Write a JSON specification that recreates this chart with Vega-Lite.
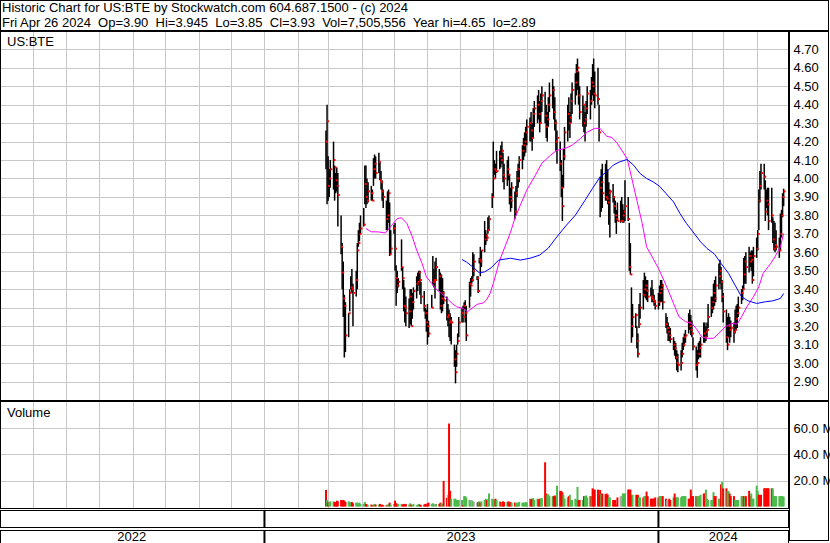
{
"$schema":"https://vega.github.io/schema/vega-lite/v6.json",
"background":"white",
"padding":{"left":0,"top":0,"right":-3,"bottom":0},
"spacing":0,
"datasets":{
"hdr":[{"k":"frame"}],
"yearlabels":[{"year":"2022","mid":"2022-08-31"},{"year":"2023","mid":"2023-07-02"},{"year":"2024","mid":"2024-03-01"}],
"yearstarts":[{"start":"2023-01-01"},{"start":"2024-01-01"}],
"px":[
{"d":"2023-02-27","h":4.26,"l":4.05,"c":4.20,"v":12.8,"t":"down"},
{"d":"2023-02-28","h":4.40,"l":3.86,"c":4.31,"v":5.0,"t":"up"},
{"d":"2023-03-01","h":4.12,"l":3.88,"c":3.96,"v":3.3,"t":"down"},
{"d":"2023-03-02","h":4.05,"l":3.90,"c":4.00,"v":3.0,"t":"up"},
{"d":"2023-03-03","h":4.10,"l":3.95,"c":4.05,"v":4.0,"t":"up"},
{"d":"2023-03-06","h":4.20,"l":3.94,"c":4.10,"v":4.0,"t":"up"},
{"d":"2023-03-07","h":4.07,"l":3.88,"c":4.06,"v":3.5,"t":"down"},
{"d":"2023-03-08","h":4.03,"l":3.92,"c":3.99,"v":3.0,"t":"down"},
{"d":"2023-03-09","h":4.06,"l":3.93,"c":3.96,"v":4.5,"t":"down"},
{"d":"2023-03-10","h":4.03,"l":3.74,"c":3.91,"v":4.0,"t":"down"},
{"d":"2023-03-13","h":3.80,"l":3.59,"c":3.63,"v":5.0,"t":"down"},
{"d":"2023-03-14","h":3.65,"l":3.40,"c":3.49,"v":4.5,"t":"down"},
{"d":"2023-03-15","h":3.55,"l":3.25,"c":3.35,"v":5.0,"t":"down"},
{"d":"2023-03-16","h":3.37,"l":3.03,"c":3.31,"v":4.5,"t":"down"},
{"d":"2023-03-17","h":3.33,"l":3.06,"c":3.15,"v":3.5,"t":"down"},
{"d":"2023-03-20","h":3.27,"l":3.14,"c":3.27,"v":4.0,"t":"up"},
{"d":"2023-03-21","h":3.40,"l":3.28,"c":3.38,"v":3.5,"t":"up"},
{"d":"2023-03-22","h":3.47,"l":3.40,"c":3.41,"v":3.0,"t":"up"},
{"d":"2023-03-23","h":3.51,"l":3.38,"c":3.40,"v":3.5,"t":"down"},
{"d":"2023-03-24","h":3.43,"l":3.20,"c":3.38,"v":2.5,"t":"down"},
{"d":"2023-03-27","h":3.50,"l":3.36,"c":3.45,"v":3.0,"t":"up"},
{"d":"2023-03-28","h":3.65,"l":3.40,"c":3.61,"v":3.0,"t":"up"},
{"d":"2023-03-29","h":3.72,"l":3.63,"c":3.65,"v":2.5,"t":"up"},
{"d":"2023-03-30","h":3.76,"l":3.66,"c":3.70,"v":3.0,"t":"up"},
{"d":"2023-03-31","h":3.80,"l":3.70,"c":3.73,"v":2.0,"t":"up"},
{"d":"2023-04-03","h":3.84,"l":3.74,"c":3.75,"v":2.0,"t":"up"},
{"d":"2023-04-04","h":4.07,"l":3.86,"c":3.97,"v":3.5,"t":"up"},
{"d":"2023-04-05","h":4.07,"l":3.84,"c":3.90,"v":2.0,"t":"down"},
{"d":"2023-04-06","h":4.00,"l":3.86,"c":3.88,"v":1.5,"t":"down"},
{"d":"2023-04-07","h":3.98,"l":3.87,"c":3.93,"v":1.0,"t":"up"},
{"d":"2023-04-10","h":3.96,"l":3.88,"c":3.92,"v":1.5,"t":"down"},
{"d":"2023-04-11","h":3.94,"l":3.88,"c":3.88,"v":1.0,"t":"down"},
{"d":"2023-04-12","h":4.11,"l":3.96,"c":4.05,"v":1.5,"t":"up"},
{"d":"2023-04-13","h":4.13,"l":4.00,"c":4.08,"v":2.0,"t":"up"},
{"d":"2023-04-14","h":4.12,"l":4.00,"c":4.03,"v":1.5,"t":"down"},
{"d":"2023-04-17","h":4.14,"l":4.03,"c":4.09,"v":1.5,"t":"up"},
{"d":"2023-04-18","h":4.09,"l":3.99,"c":3.99,"v":2.0,"t":"down"},
{"d":"2023-04-19","h":4.04,"l":3.94,"c":3.98,"v":1.0,"t":"down"},
{"d":"2023-04-20","h":3.99,"l":3.88,"c":3.93,"v":1.5,"t":"down"},
{"d":"2023-04-21","h":3.94,"l":3.84,"c":3.90,"v":1.0,"t":"down"},
{"d":"2023-04-24","h":3.88,"l":3.72,"c":3.78,"v":1.0,"t":"down"},
{"d":"2023-04-25","h":3.93,"l":3.72,"c":3.80,"v":1.5,"t":"up"},
{"d":"2023-04-26","h":3.94,"l":3.76,"c":3.92,"v":2.0,"t":"up"},
{"d":"2023-04-27","h":3.87,"l":3.58,"c":3.59,"v":3.0,"t":"down"},
{"d":"2023-04-28","h":3.72,"l":3.59,"c":3.62,"v":1.5,"t":"up"},
{"d":"2023-05-01","h":3.75,"l":3.70,"c":3.73,"v":2.0,"t":"up"},
{"d":"2023-05-02","h":3.76,"l":3.50,"c":3.62,"v":4.5,"t":"down"},
{"d":"2023-05-03","h":3.53,"l":3.31,"c":3.46,"v":2.5,"t":"down"},
{"d":"2023-05-04","h":3.50,"l":3.38,"c":3.42,"v":2.0,"t":"down"},
{"d":"2023-05-05","h":3.46,"l":3.41,"c":3.44,"v":2.0,"t":"up"},
{"d":"2023-05-08","h":3.67,"l":3.50,"c":3.52,"v":2.0,"t":"up"},
{"d":"2023-05-09","h":3.52,"l":3.40,"c":3.46,"v":1.5,"t":"down"},
{"d":"2023-05-10","h":3.45,"l":3.28,"c":3.31,"v":2.0,"t":"down"},
{"d":"2023-05-11","h":3.41,"l":3.22,"c":3.30,"v":1.5,"t":"down"},
{"d":"2023-05-12","h":3.36,"l":3.20,"c":3.27,"v":2.0,"t":"down"},
{"d":"2023-05-15","h":3.35,"l":3.19,"c":3.28,"v":1.5,"t":"up"},
{"d":"2023-05-16","h":3.40,"l":3.21,"c":3.36,"v":2.5,"t":"up"},
{"d":"2023-05-17","h":3.40,"l":3.20,"c":3.20,"v":1.5,"t":"down"},
{"d":"2023-05-18","h":3.38,"l":3.24,"c":3.33,"v":1.0,"t":"up"},
{"d":"2023-05-19","h":3.41,"l":3.29,"c":3.39,"v":2.0,"t":"up"},
{"d":"2023-05-22","h":3.47,"l":3.35,"c":3.43,"v":1.0,"t":"up"},
{"d":"2023-05-23","h":3.49,"l":3.39,"c":3.44,"v":1.5,"t":"up"},
{"d":"2023-05-24","h":3.50,"l":3.42,"c":3.49,"v":2.0,"t":"up"},
{"d":"2023-05-25","h":3.50,"l":3.37,"c":3.45,"v":1.5,"t":"down"},
{"d":"2023-05-26","h":3.44,"l":3.32,"c":3.36,"v":1.0,"t":"down"},
{"d":"2023-05-29","h":3.39,"l":3.28,"c":3.31,"v":1.5,"t":"down"},
{"d":"2023-05-30","h":3.30,"l":3.24,"c":3.27,"v":2.0,"t":"down"},
{"d":"2023-05-31","h":3.29,"l":3.17,"c":3.22,"v":1.5,"t":"down"},
{"d":"2023-06-01","h":3.32,"l":3.10,"c":3.20,"v":2.5,"t":"down"},
{"d":"2023-06-02","h":3.23,"l":3.14,"c":3.16,"v":3.0,"t":"down"},
{"d":"2023-06-05","h":3.37,"l":3.30,"c":3.30,"v":2.0,"t":"up"},
{"d":"2023-06-06","h":3.58,"l":3.42,"c":3.44,"v":2.5,"t":"up"},
{"d":"2023-06-07","h":3.51,"l":3.41,"c":3.45,"v":2.0,"t":"up"},
{"d":"2023-06-08","h":3.55,"l":3.35,"c":3.45,"v":1.5,"t":"flat"},
{"d":"2023-06-09","h":3.57,"l":3.45,"c":3.52,"v":2.0,"t":"up"},
{"d":"2023-06-12","h":3.51,"l":3.39,"c":3.47,"v":2.0,"t":"down"},
{"d":"2023-06-13","h":3.49,"l":3.29,"c":3.31,"v":3.0,"t":"down"},
{"d":"2023-06-14","h":3.48,"l":3.27,"c":3.35,"v":2.5,"t":"up"},
{"d":"2023-06-15","h":3.46,"l":3.28,"c":3.38,"v":2.0,"t":"up"},
{"d":"2023-06-16","h":3.39,"l":3.32,"c":3.34,"v":19.7,"t":"down"},
{"d":"2023-06-19","h":3.36,"l":3.23,"c":3.25,"v":6.7,"t":"down"},
{"d":"2023-06-20","h":3.32,"l":3.20,"c":3.26,"v":9.0,"t":"flat"},
{"d":"2023-06-21","h":3.29,"l":3.14,"c":3.22,"v":63.8,"t":"down"},
{"d":"2023-06-22","h":3.27,"l":3.12,"c":3.23,"v":12.0,"t":"down"},
{"d":"2023-06-23","h":3.25,"l":3.10,"c":3.22,"v":6.0,"t":"up"},
{"d":"2023-06-26","h":3.10,"l":2.98,"c":3.02,"v":6.0,"t":"up"},
{"d":"2023-06-27","h":3.07,"l":2.89,"c":2.95,"v":6.0,"t":"up"},
{"d":"2023-06-28","h":3.10,"l":2.98,"c":3.05,"v":5.0,"t":"up"},
{"d":"2023-06-29","h":3.16,"l":3.10,"c":3.12,"v":5.0,"t":"up"},
{"d":"2023-06-30","h":3.25,"l":3.14,"c":3.22,"v":5.0,"t":"up"},
{"d":"2023-07-03","h":3.30,"l":3.22,"c":3.27,"v":5.0,"t":"up"},
{"d":"2023-07-04","h":3.31,"l":3.22,"c":3.25,"v":1.0,"t":"down"},
{"d":"2023-07-05","h":3.33,"l":3.29,"c":3.31,"v":8.0,"t":"up"},
{"d":"2023-07-06","h":3.34,"l":3.22,"c":3.27,"v":8.0,"t":"up"},
{"d":"2023-07-07","h":3.31,"l":3.12,"c":3.15,"v":7.0,"t":"up"},
{"d":"2023-07-10","h":3.44,"l":3.30,"c":3.43,"v":5.0,"t":"up"},
{"d":"2023-07-11","h":3.46,"l":3.36,"c":3.42,"v":4.5,"t":"up"},
{"d":"2023-07-12","h":3.47,"l":3.43,"c":3.45,"v":5.0,"t":"flat"},
{"d":"2023-07-13","h":3.60,"l":3.44,"c":3.50,"v":4.0,"t":"up"},
{"d":"2023-07-14","h":3.59,"l":3.47,"c":3.55,"v":3.5,"t":"flat"},
{"d":"2023-07-17","h":3.47,"l":3.45,"c":3.46,"v":3.0,"t":"flat"},
{"d":"2023-07-18","h":3.47,"l":3.38,"c":3.39,"v":3.5,"t":"down"},
{"d":"2023-07-19","h":3.57,"l":3.54,"c":3.56,"v":4.0,"t":"up"},
{"d":"2023-07-20","h":3.63,"l":3.47,"c":3.55,"v":3.0,"t":"down"},
{"d":"2023-07-21","h":3.61,"l":3.52,"c":3.61,"v":4.0,"t":"up"},
{"d":"2023-07-24","h":3.77,"l":3.60,"c":3.67,"v":5.0,"t":"up"},
{"d":"2023-07-25","h":3.72,"l":3.64,"c":3.69,"v":6.0,"t":"up"},
{"d":"2023-07-26","h":3.70,"l":3.66,"c":3.68,"v":5.0,"t":"down"},
{"d":"2023-07-27","h":3.79,"l":3.70,"c":3.72,"v":5.5,"t":"up"},
{"d":"2023-07-28","h":3.80,"l":3.72,"c":3.78,"v":10.0,"t":"up"},
{"d":"2023-07-31","h":3.92,"l":3.84,"c":3.90,"v":6.0,"t":"up"},
{"d":"2023-08-01","h":4.20,"l":3.90,"c":4.00,"v":5.5,"t":"up"},
{"d":"2023-08-02","h":4.10,"l":4.02,"c":4.05,"v":5.0,"t":"up"},
{"d":"2023-08-03","h":4.08,"l":4.00,"c":4.04,"v":6.0,"t":"down"},
{"d":"2023-08-04","h":4.15,"l":4.03,"c":4.04,"v":5.0,"t":"up"},
{"d":"2023-08-07","h":4.15,"l":4.05,"c":4.12,"v":4.0,"t":"up"},
{"d":"2023-08-08","h":4.18,"l":4.06,"c":4.10,"v":3.5,"t":"down"},
{"d":"2023-08-09","h":4.20,"l":4.08,"c":4.15,"v":3.0,"t":"up"},
{"d":"2023-08-10","h":4.14,"l":3.98,"c":4.02,"v":4.0,"t":"down"},
{"d":"2023-08-11","h":4.08,"l":3.94,"c":4.00,"v":3.5,"t":"down"},
{"d":"2023-08-14","h":4.10,"l":3.96,"c":4.05,"v":3.5,"t":"up"},
{"d":"2023-08-15","h":4.12,"l":3.99,"c":4.02,"v":4.0,"t":"down"},
{"d":"2023-08-16","h":4.02,"l":3.86,"c":3.90,"v":3.0,"t":"down"},
{"d":"2023-08-17","h":3.95,"l":3.82,"c":3.88,"v":3.5,"t":"down"},
{"d":"2023-08-18","h":3.98,"l":3.84,"c":3.95,"v":3.0,"t":"up"},
{"d":"2023-08-21","h":3.93,"l":3.78,"c":3.82,"v":3.0,"t":"down"},
{"d":"2023-08-22","h":3.96,"l":3.80,"c":3.92,"v":3.0,"t":"up"},
{"d":"2023-08-23","h":4.04,"l":3.90,"c":4.00,"v":2.5,"t":"up"},
{"d":"2023-08-24","h":4.08,"l":3.95,"c":4.05,"v":3.0,"t":"up"},
{"d":"2023-08-25","h":4.12,"l":3.98,"c":4.10,"v":3.5,"t":"up"},
{"d":"2023-08-28","h":4.18,"l":4.05,"c":4.15,"v":3.0,"t":"up"},
{"d":"2023-08-29","h":4.22,"l":4.10,"c":4.18,"v":3.0,"t":"up"},
{"d":"2023-08-30","h":4.25,"l":4.12,"c":4.20,"v":2.5,"t":"up"},
{"d":"2023-08-31","h":4.28,"l":4.14,"c":4.25,"v":3.5,"t":"up"},
{"d":"2023-09-01","h":4.32,"l":4.18,"c":4.28,"v":3.0,"t":"up"},
{"d":"2023-09-04","h":4.33,"l":4.20,"c":4.30,"v":6.0,"t":"up"},
{"d":"2023-09-05","h":4.36,"l":4.20,"c":4.26,"v":5.5,"t":"down"},
{"d":"2023-09-06","h":4.30,"l":4.15,"c":4.22,"v":6.0,"t":"down"},
{"d":"2023-09-07","h":4.38,"l":4.22,"c":4.35,"v":6.5,"t":"up"},
{"d":"2023-09-08","h":4.42,"l":4.28,"c":4.38,"v":5.0,"t":"up"},
{"d":"2023-09-11","h":4.45,"l":4.30,"c":4.40,"v":6.0,"t":"up"},
{"d":"2023-09-12","h":4.48,"l":4.32,"c":4.35,"v":5.5,"t":"down"},
{"d":"2023-09-13","h":4.42,"l":4.25,"c":4.30,"v":6.0,"t":"down"},
{"d":"2023-09-14","h":4.46,"l":4.30,"c":4.42,"v":6.0,"t":"up"},
{"d":"2023-09-15","h":4.50,"l":4.36,"c":4.45,"v":6.5,"t":"up"},
{"d":"2023-09-18","h":4.47,"l":4.30,"c":4.34,"v":34.0,"t":"down"},
{"d":"2023-09-19","h":4.40,"l":4.22,"c":4.28,"v":10.0,"t":"down"},
{"d":"2023-09-20","h":4.36,"l":4.20,"c":4.32,"v":9.0,"t":"up"},
{"d":"2023-09-21","h":4.44,"l":4.28,"c":4.40,"v":9.5,"t":"up"},
{"d":"2023-09-22","h":4.52,"l":4.36,"c":4.45,"v":8.0,"t":"up"},
{"d":"2023-09-25","h":4.54,"l":4.38,"c":4.48,"v":8.0,"t":"up"},
{"d":"2023-09-26","h":4.50,"l":4.32,"c":4.36,"v":8.0,"t":"down"},
{"d":"2023-09-27","h":4.44,"l":4.26,"c":4.30,"v":8.5,"t":"down"},
{"d":"2023-09-28","h":4.32,"l":4.15,"c":4.20,"v":7.5,"t":"down"},
{"d":"2023-09-29","h":4.26,"l":4.08,"c":4.22,"v":16.0,"t":"up"},
{"d":"2023-10-02","h":4.20,"l":4.04,"c":4.08,"v":12.0,"t":"down"},
{"d":"2023-10-03","h":4.10,"l":3.90,"c":3.95,"v":12.0,"t":"down"},
{"d":"2023-10-04","h":4.02,"l":3.77,"c":3.85,"v":11.0,"t":"down"},
{"d":"2023-10-05","h":4.16,"l":3.95,"c":4.12,"v":9.0,"t":"up"},
{"d":"2023-10-06","h":4.28,"l":4.10,"c":4.25,"v":6.0,"t":"up"},
{"d":"2023-10-09","h":4.40,"l":4.20,"c":4.35,"v":7.0,"t":"up"},
{"d":"2023-10-10","h":4.44,"l":4.26,"c":4.30,"v":8.0,"t":"down"},
{"d":"2023-10-11","h":4.36,"l":4.22,"c":4.33,"v":9.0,"t":"up"},
{"d":"2023-10-12","h":4.46,"l":4.30,"c":4.42,"v":5.0,"t":"up"},
{"d":"2023-10-13","h":4.52,"l":4.35,"c":4.48,"v":5.0,"t":"up"},
{"d":"2023-10-16","h":4.57,"l":4.40,"c":4.52,"v":6.0,"t":"up"},
{"d":"2023-10-17","h":4.62,"l":4.45,"c":4.58,"v":5.0,"t":"up"},
{"d":"2023-10-18","h":4.65,"l":4.48,"c":4.60,"v":15.0,"t":"up"},
{"d":"2023-10-19","h":4.58,"l":4.40,"c":4.45,"v":5.0,"t":"down"},
{"d":"2023-10-20","h":4.50,"l":4.32,"c":4.36,"v":5.0,"t":"down"},
{"d":"2023-10-23","h":4.45,"l":4.28,"c":4.40,"v":5.0,"t":"up"},
{"d":"2023-10-24","h":4.40,"l":4.25,"c":4.30,"v":8.0,"t":"down"},
{"d":"2023-10-25","h":4.36,"l":4.20,"c":4.32,"v":8.0,"t":"up"},
{"d":"2023-10-26","h":4.42,"l":4.28,"c":4.38,"v":8.5,"t":"up"},
{"d":"2023-10-27","h":4.50,"l":4.35,"c":4.46,"v":7.0,"t":"up"},
{"d":"2023-10-30","h":4.48,"l":4.32,"c":4.42,"v":8.0,"t":"down"},
{"d":"2023-10-31","h":4.55,"l":4.40,"c":4.52,"v":8.0,"t":"up"},
{"d":"2023-11-01","h":4.62,"l":4.45,"c":4.50,"v":14.0,"t":"down"},
{"d":"2023-11-02","h":4.65,"l":4.42,"c":4.46,"v":13.0,"t":"down"},
{"d":"2023-11-03","h":4.58,"l":4.38,"c":4.45,"v":13.0,"t":"down"},
{"d":"2023-11-06","h":4.60,"l":4.40,"c":4.43,"v":13.0,"t":"down"},
{"d":"2023-11-07","h":4.40,"l":4.20,"c":4.25,"v":9.0,"t":"down"},
{"d":"2023-11-08","h":4.01,"l":3.79,"c":3.95,"v":12.7,"t":"down"},
{"d":"2023-11-09","h":4.05,"l":3.82,"c":3.98,"v":9.5,"t":"up"},
{"d":"2023-11-10","h":4.08,"l":3.84,"c":3.92,"v":10.0,"t":"down"},
{"d":"2023-11-13","h":4.08,"l":3.88,"c":3.90,"v":9.5,"t":"down"},
{"d":"2023-11-14","h":4.10,"l":3.88,"c":3.89,"v":10.0,"t":"down"},
{"d":"2023-11-15","h":4.05,"l":3.86,"c":3.87,"v":9.0,"t":"down"},
{"d":"2023-11-16","h":3.98,"l":3.75,"c":3.92,"v":7.0,"t":"up"},
{"d":"2023-11-17","h":3.94,"l":3.68,"c":3.93,"v":7.0,"t":"up"},
{"d":"2023-11-20","h":3.97,"l":3.87,"c":3.90,"v":5.0,"t":"down"},
{"d":"2023-11-21","h":3.90,"l":3.81,"c":3.85,"v":5.0,"t":"down"},
{"d":"2023-11-22","h":3.88,"l":3.76,"c":3.80,"v":5.0,"t":"down"},
{"d":"2023-11-23","h":3.83,"l":3.70,"c":3.78,"v":1.5,"t":"down"},
{"d":"2023-11-24","h":3.87,"l":3.77,"c":3.77,"v":7.0,"t":"down"},
{"d":"2023-11-27","h":3.88,"l":3.76,"c":3.77,"v":8.0,"t":"flat"},
{"d":"2023-11-28","h":3.90,"l":3.77,"c":3.77,"v":8.0,"t":"flat"},
{"d":"2023-11-29","h":3.86,"l":3.76,"c":3.80,"v":10.0,"t":"up"},
{"d":"2023-11-30","h":3.83,"l":3.76,"c":3.82,"v":10.0,"t":"up"},
{"d":"2023-12-01","h":3.99,"l":3.77,"c":3.85,"v":10.0,"t":"up"},
{"d":"2023-12-04","h":3.90,"l":3.77,"c":3.78,"v":13.0,"t":"down"},
{"d":"2023-12-05","h":3.76,"l":3.50,"c":3.52,"v":13.0,"t":"down"},
{"d":"2023-12-06","h":3.65,"l":3.48,"c":3.48,"v":13.0,"t":"down"},
{"d":"2023-12-07","h":3.41,"l":3.11,"c":3.20,"v":9.0,"t":"down"},
{"d":"2023-12-08","h":3.32,"l":3.14,"c":3.25,"v":9.0,"t":"up"},
{"d":"2023-12-11","h":3.27,"l":3.19,"c":3.26,"v":9.0,"t":"up"},
{"d":"2023-12-12","h":3.20,"l":3.08,"c":3.12,"v":9.0,"t":"down"},
{"d":"2023-12-13","h":3.16,"l":3.03,"c":3.05,"v":9.0,"t":"down"},
{"d":"2023-12-14","h":3.32,"l":3.19,"c":3.21,"v":7.0,"t":"up"},
{"d":"2023-12-15","h":3.38,"l":3.24,"c":3.30,"v":7.0,"t":"up"},
{"d":"2023-12-18","h":3.45,"l":3.29,"c":3.37,"v":7.0,"t":"down"},
{"d":"2023-12-19","h":3.49,"l":3.36,"c":3.40,"v":8.0,"t":"up"},
{"d":"2023-12-20","h":3.47,"l":3.35,"c":3.42,"v":8.0,"t":"up"},
{"d":"2023-12-21","h":3.45,"l":3.34,"c":3.39,"v":11.5,"t":"down"},
{"d":"2023-12-22","h":3.45,"l":3.33,"c":3.36,"v":8.0,"t":"down"},
{"d":"2023-12-25","h":3.41,"l":3.36,"c":3.36,"v":6.0,"t":"down"},
{"d":"2023-12-26","h":3.45,"l":3.33,"c":3.35,"v":6.0,"t":"down"},
{"d":"2023-12-27","h":3.40,"l":3.33,"c":3.34,"v":6.0,"t":"down"},
{"d":"2023-12-28","h":3.37,"l":3.31,"c":3.33,"v":6.0,"t":"down"},
{"d":"2023-12-29","h":3.34,"l":3.29,"c":3.31,"v":7.0,"t":"down"},
{"d":"2024-01-01","h":3.38,"l":3.29,"c":3.33,"v":7.0,"t":"down"},
{"d":"2024-01-02","h":3.42,"l":3.31,"c":3.38,"v":8.0,"t":"up"},
{"d":"2024-01-03","h":3.45,"l":3.33,"c":3.40,"v":8.0,"t":"up"},
{"d":"2024-01-04","h":3.45,"l":3.33,"c":3.42,"v":8.0,"t":"up"},
{"d":"2024-01-05","h":3.43,"l":3.29,"c":3.33,"v":8.0,"t":"down"},
{"d":"2024-01-08","h":3.27,"l":3.19,"c":3.21,"v":6.0,"t":"down"},
{"d":"2024-01-09","h":3.25,"l":3.16,"c":3.19,"v":5.0,"t":"flat"},
{"d":"2024-01-10","h":3.22,"l":3.12,"c":3.17,"v":5.0,"t":"flat"},
{"d":"2024-01-11","h":3.20,"l":3.12,"c":3.15,"v":6.0,"t":"down"},
{"d":"2024-01-12","h":3.19,"l":3.11,"c":3.13,"v":5.0,"t":"down"},
{"d":"2024-01-15","h":3.14,"l":3.07,"c":3.10,"v":7.0,"t":"up"},
{"d":"2024-01-16","h":3.12,"l":3.04,"c":3.08,"v":10.0,"t":"down"},
{"d":"2024-01-17","h":3.11,"l":3.02,"c":3.03,"v":7.0,"t":"down"},
{"d":"2024-01-18","h":3.07,"l":2.96,"c":3.00,"v":7.0,"t":"up"},
{"d":"2024-01-19","h":3.05,"l":2.95,"c":2.99,"v":7.0,"t":"up"},
{"d":"2024-01-22","h":3.07,"l":2.96,"c":3.00,"v":7.0,"t":"up"},
{"d":"2024-01-23","h":3.11,"l":3.03,"c":3.05,"v":8.0,"t":"up"},
{"d":"2024-01-24","h":3.14,"l":3.07,"c":3.10,"v":8.0,"t":"up"},
{"d":"2024-01-25","h":3.16,"l":3.09,"c":3.14,"v":8.0,"t":"up"},
{"d":"2024-01-26","h":3.18,"l":3.11,"c":3.15,"v":8.0,"t":"up"},
{"d":"2024-01-29","h":3.27,"l":3.16,"c":3.22,"v":6.0,"t":"down"},
{"d":"2024-01-30","h":3.29,"l":3.18,"c":3.20,"v":6.0,"t":"down"},
{"d":"2024-01-31","h":3.26,"l":3.15,"c":3.18,"v":13.0,"t":"down"},
{"d":"2024-02-01","h":3.23,"l":3.14,"c":3.16,"v":8.0,"t":"down"},
{"d":"2024-02-02","h":3.14,"l":3.07,"c":3.09,"v":8.0,"t":"down"},
{"d":"2024-02-05","h":3.09,"l":2.96,"c":2.99,"v":8.0,"t":"down"},
{"d":"2024-02-06","h":3.07,"l":2.92,"c":3.00,"v":8.0,"t":"up"},
{"d":"2024-02-07","h":3.11,"l":3.02,"c":3.05,"v":8.0,"t":"up"},
{"d":"2024-02-08","h":3.12,"l":3.03,"c":3.08,"v":8.0,"t":"up"},
{"d":"2024-02-09","h":3.14,"l":3.03,"c":3.10,"v":9.0,"t":"up"},
{"d":"2024-02-12","h":3.22,"l":3.11,"c":3.16,"v":10.0,"t":"down"},
{"d":"2024-02-13","h":3.22,"l":3.11,"c":3.14,"v":10.0,"t":"down"},
{"d":"2024-02-14","h":3.20,"l":3.12,"c":3.17,"v":13.0,"t":"up"},
{"d":"2024-02-15","h":3.22,"l":3.14,"c":3.18,"v":6.0,"t":"up"},
{"d":"2024-02-16","h":3.32,"l":3.19,"c":3.25,"v":5.0,"t":"up"},
{"d":"2024-02-19","h":3.36,"l":3.25,"c":3.30,"v":5.0,"t":"up"},
{"d":"2024-02-20","h":3.36,"l":3.27,"c":3.33,"v":5.0,"t":"up"},
{"d":"2024-02-21","h":3.43,"l":3.29,"c":3.38,"v":11.0,"t":"up"},
{"d":"2024-02-22","h":3.45,"l":3.31,"c":3.35,"v":8.0,"t":"down"},
{"d":"2024-02-23","h":3.47,"l":3.33,"c":3.42,"v":8.0,"t":"down"},
{"d":"2024-02-26","h":3.54,"l":3.40,"c":3.47,"v":6.0,"t":"up"},
{"d":"2024-02-27","h":3.56,"l":3.43,"c":3.50,"v":6.0,"t":"up"},
{"d":"2024-02-28","h":3.52,"l":3.40,"c":3.44,"v":17.0,"t":"down"},
{"d":"2024-02-29","h":3.45,"l":3.33,"c":3.36,"v":19.0,"t":"up"},
{"d":"2024-03-01","h":3.38,"l":3.22,"c":3.28,"v":14.0,"t":"down"},
{"d":"2024-03-04","h":3.29,"l":3.11,"c":3.14,"v":14.0,"t":"down"},
{"d":"2024-03-05","h":3.25,"l":3.07,"c":3.10,"v":12.0,"t":"up"},
{"d":"2024-03-06","h":3.27,"l":3.14,"c":3.20,"v":12.0,"t":"up"},
{"d":"2024-03-07","h":3.25,"l":3.11,"c":3.18,"v":10.0,"t":"down"},
{"d":"2024-03-08","h":3.23,"l":3.14,"c":3.19,"v":8.0,"t":"down"},
{"d":"2024-03-11","h":3.22,"l":3.11,"c":3.17,"v":8.0,"t":"down"},
{"d":"2024-03-12","h":3.29,"l":3.16,"c":3.18,"v":5.0,"t":"up"},
{"d":"2024-03-13","h":3.31,"l":3.18,"c":3.24,"v":5.0,"t":"up"},
{"d":"2024-03-14","h":3.32,"l":3.19,"c":3.27,"v":5.0,"t":"up"},
{"d":"2024-03-15","h":3.36,"l":3.25,"c":3.30,"v":5.0,"t":"up"},
{"d":"2024-03-18","h":3.40,"l":3.32,"c":3.38,"v":8.0,"t":"up"},
{"d":"2024-03-19","h":3.42,"l":3.34,"c":3.40,"v":8.0,"t":"up"},
{"d":"2024-03-20","h":3.57,"l":3.40,"c":3.48,"v":8.0,"t":"down"},
{"d":"2024-03-21","h":3.58,"l":3.43,"c":3.55,"v":7.0,"t":"up"},
{"d":"2024-03-22","h":3.60,"l":3.43,"c":3.52,"v":8.0,"t":"down"},
{"d":"2024-03-25","h":3.63,"l":3.49,"c":3.58,"v":12.0,"t":"down"},
{"d":"2024-03-26","h":3.60,"l":3.52,"c":3.55,"v":8.0,"t":"down"},
{"d":"2024-03-27","h":3.61,"l":3.50,"c":3.56,"v":10.0,"t":"up"},
{"d":"2024-03-28","h":3.61,"l":3.43,"c":3.45,"v":6.0,"t":"up"},
{"d":"2024-03-29","h":3.63,"l":3.47,"c":3.58,"v":6.0,"t":"up"},
{"d":"2024-04-01","h":3.68,"l":3.57,"c":3.62,"v":16.0,"t":"up"},
{"d":"2024-04-02","h":3.72,"l":3.61,"c":3.70,"v":12.0,"t":"up"},
{"d":"2024-04-03","h":3.94,"l":3.72,"c":3.88,"v":9.0,"t":"down"},
{"d":"2024-04-04","h":4.04,"l":3.87,"c":3.96,"v":9.0,"t":"down"},
{"d":"2024-04-05","h":4.08,"l":3.94,"c":4.03,"v":9.0,"t":"down"},
{"d":"2024-04-08","h":4.08,"l":3.94,"c":4.01,"v":14.0,"t":"down"},
{"d":"2024-04-09","h":3.99,"l":3.77,"c":3.82,"v":14.0,"t":"down"},
{"d":"2024-04-10","h":3.94,"l":3.84,"c":3.88,"v":14.0,"t":"down"},
{"d":"2024-04-11","h":3.95,"l":3.80,"c":3.86,"v":14.0,"t":"down"},
{"d":"2024-04-12","h":3.95,"l":3.72,"c":3.77,"v":14.0,"t":"down"},
{"d":"2024-04-15","h":3.95,"l":3.76,"c":3.80,"v":14.0,"t":"down"},
{"d":"2024-04-16","h":3.79,"l":3.65,"c":3.67,"v":14.0,"t":"up"},
{"d":"2024-04-17","h":3.77,"l":3.61,"c":3.62,"v":8.0,"t":"up"},
{"d":"2024-04-18","h":3.76,"l":3.60,"c":3.64,"v":8.0,"t":"up"},
{"d":"2024-04-19","h":3.72,"l":3.61,"c":3.63,"v":8.0,"t":"up"},
{"d":"2024-04-22","h":3.68,"l":3.57,"c":3.61,"v":8.0,"t":"up"},
{"d":"2024-04-23","h":3.81,"l":3.61,"c":3.70,"v":8.0,"t":"up"},
{"d":"2024-04-24","h":3.83,"l":3.68,"c":3.80,"v":8.0,"t":"up"},
{"d":"2024-04-25","h":3.92,"l":3.79,"c":3.90,"v":8.0,"t":"up"},
{"d":"2024-04-26","h":3.945,"l":3.85,"c":3.93,"v":7.5,"t":"up"}
],
"ma1":[
{"d":"2023-04-05","m":3.729},{"d":"2023-04-10","m":3.711},{"d":"2023-04-16","m":3.711},{"d":"2023-04-23","m":3.705},{"d":"2023-04-29","m":3.747},{"d":"2023-05-04","m":3.783},{"d":"2023-05-08","m":3.787},{"d":"2023-05-13","m":3.756},{"d":"2023-05-18","m":3.684},{"d":"2023-05-22","m":3.612},{"d":"2023-05-27","m":3.540},{"d":"2023-05-31","m":3.467},{"d":"2023-06-05","m":3.431},{"d":"2023-06-10","m":3.395},{"d":"2023-06-14","m":3.377},{"d":"2023-06-19","m":3.350},{"d":"2023-06-24","m":3.323},{"d":"2023-06-28","m":3.305},{"d":"2023-07-04","m":3.296},{"d":"2023-07-08","m":3.278},{"d":"2023-07-12","m":3.296},{"d":"2023-07-17","m":3.318},{"d":"2023-07-23","m":3.326},{"d":"2023-07-26","m":3.345},{"d":"2023-07-29","m":3.377},{"d":"2023-08-01","m":3.431},{"d":"2023-08-04","m":3.494},{"d":"2023-08-07","m":3.558},{"d":"2023-08-12","m":3.633},{"d":"2023-08-17","m":3.709},{"d":"2023-08-21","m":3.785},{"d":"2023-08-26","m":3.855},{"d":"2023-09-01","m":3.937},{"d":"2023-09-09","m":4.018},{"d":"2023-09-15","m":4.083},{"d":"2023-09-23","m":4.126},{"d":"2023-09-29","m":4.153},{"d":"2023-10-07","m":4.164},{"d":"2023-10-13","m":4.180},{"d":"2023-10-21","m":4.218},{"d":"2023-10-27","m":4.251},{"d":"2023-11-03","m":4.272},{"d":"2023-11-08","m":4.271},{"d":"2023-11-14","m":4.229},{"d":"2023-11-19","m":4.222},{"d":"2023-11-24","m":4.189},{"d":"2023-11-28","m":4.153},{"d":"2023-12-03","m":4.108},{"d":"2023-12-07","m":4.009},{"d":"2023-12-12","m":3.882},{"d":"2023-12-17","m":3.756},{"d":"2023-12-21","m":3.630},{"d":"2023-12-27","m":3.567},{"d":"2024-01-01","m":3.513},{"d":"2024-01-06","m":3.449},{"d":"2024-01-10","m":3.395},{"d":"2024-01-15","m":3.323},{"d":"2024-01-20","m":3.251},{"d":"2024-01-26","m":3.224},{"d":"2024-02-01","m":3.215},{"d":"2024-02-06","m":3.179},{"d":"2024-02-10","m":3.142},{"d":"2024-02-15","m":3.134},{"d":"2024-02-21","m":3.134},{"d":"2024-02-26","m":3.161},{"d":"2024-03-03","m":3.197},{"d":"2024-03-09","m":3.215},{"d":"2024-03-14","m":3.211},{"d":"2024-03-18","m":3.251},{"d":"2024-03-23","m":3.305},{"d":"2024-03-29","m":3.359},{"d":"2024-04-03","m":3.413},{"d":"2024-04-07","m":3.486},{"d":"2024-04-14","m":3.540},{"d":"2024-04-18","m":3.576},{"d":"2024-04-23","m":3.630},{"d":"2024-04-26","m":3.702}
],
"ma2":[
{"d":"2023-07-03","m":3.561},{"d":"2023-07-07","m":3.548},{"d":"2023-07-13","m":3.521},{"d":"2023-07-19","m":3.489},{"d":"2023-07-24","m":3.494},{"d":"2023-07-30","m":3.516},{"d":"2023-08-06","m":3.558},{"d":"2023-08-17","m":3.568},{"d":"2023-08-26","m":3.558},{"d":"2023-09-04","m":3.568},{"d":"2023-09-13","m":3.585},{"d":"2023-09-21","m":3.623},{"d":"2023-09-28","m":3.677},{"d":"2023-10-07","m":3.742},{"d":"2023-10-16","m":3.801},{"d":"2023-10-25","m":3.882},{"d":"2023-11-01","m":3.947},{"d":"2023-11-08","m":4.009},{"d":"2023-11-14","m":4.036},{"d":"2023-11-20","m":4.072},{"d":"2023-11-26","m":4.090},{"d":"2023-12-03","m":4.103},{"d":"2023-12-09","m":4.072},{"d":"2023-12-15","m":4.027},{"d":"2023-12-21","m":4.000},{"d":"2023-12-27","m":3.982},{"d":"2024-01-02","m":3.958},{"d":"2024-01-08","m":3.919},{"d":"2024-01-15","m":3.873},{"d":"2024-01-21","m":3.810},{"d":"2024-01-27","m":3.756},{"d":"2024-02-02","m":3.711},{"d":"2024-02-09","m":3.657},{"d":"2024-02-15","m":3.621},{"d":"2024-02-22","m":3.590},{"d":"2024-02-28","m":3.540},{"d":"2024-03-06","m":3.486},{"d":"2024-03-12","m":3.422},{"d":"2024-03-18","m":3.359},{"d":"2024-03-24","m":3.337},{"d":"2024-04-01","m":3.323},{"d":"2024-04-09","m":3.332},{"d":"2024-04-16","m":3.337},{"d":"2024-04-23","m":3.350},{"d":"2024-04-26","m":3.377}
]
},
"vconcat":[
{"width":829,"height":31,
 "title":{"text":"Historic Chart for US:BTE by Stockwatch.com 604.687.1500 - (c) 2024","subtitle":"Fri Apr 26 2024\u00a0 Op=3.90\u00a0 Hi=3.945\u00a0 Lo=3.85\u00a0 Cl=3.93\u00a0 Vol=7,505,556\u00a0 Year hi=4.65\u00a0 lo=2.89","offset":-29.5,"dx":2,"subtitlePadding":2},
 "data":{"name":"hdr"},"mark":{"type":"rect","fill":"#ffffff","stroke":"#000000","strokeWidth":2,"clip":true}},
{"hconcat":[
 {"vconcat":[
  {"width":789,"height":370,
   "title":{"text":"US:BTE","offset":-17.5,"dx":7},
   "layer":[
    {"data":{"name":"px"},"mark":{"type":"rule","color":"#000000","strokeWidth":1.5},
     "encoding":{
      "x":{"field":"d","type":"temporal","title":null,"scale":{"type":"utc","domain":[{"year":2022,"month":5,"date":1,"utc":true},{"year":2024,"month":4,"date":30,"hours":23,"utc":true}],"padding":0,"nice":false},"axis":{"tickCount":{"interval":"month","step":1}}},
      "y":{"field":"l","type":"quantitative","title":null,"scale":{"domain":[2.7944,4.7992],"zero":false,"nice":false,"padding":0},"axis":{"values":[2.9,3,3.1,3.2,3.3,3.4,3.5,3.6,3.7,3.8,3.9,4,4.1,4.2,4.3,4.4,4.5,4.6,4.7]}},
      "y2":{"field":"h"}}},
    {"data":{"name":"px"},"mark":{"type":"square","color":"#ff0000","size":4,"opacity":1,"xOffset":1},
     "encoding":{
      "x":{"field":"d","type":"temporal","title":null,"scale":{"type":"utc","domain":[{"year":2022,"month":5,"date":1,"utc":true},{"year":2024,"month":4,"date":30,"hours":23,"utc":true}],"padding":0,"nice":false},"axis":{"tickCount":{"interval":"month","step":1}}},
      "y":{"field":"c","type":"quantitative","title":null,"scale":{"domain":[2.7944,4.7992],"zero":false,"nice":false,"padding":0},"axis":{"values":[2.9,3,3.1,3.2,3.3,3.4,3.5,3.6,3.7,3.8,3.9,4,4.1,4.2,4.3,4.4,4.5,4.6,4.7]}}}},
    {"data":{"name":"ma1"},"mark":{"type":"line","color":"#ff00ff","strokeWidth":1},
     "encoding":{
      "x":{"field":"d","type":"temporal","title":null,"scale":{"type":"utc","domain":[{"year":2022,"month":5,"date":1,"utc":true},{"year":2024,"month":4,"date":30,"hours":23,"utc":true}],"padding":0,"nice":false},"axis":{"tickCount":{"interval":"month","step":1}}},
      "y":{"field":"m","type":"quantitative","title":null,"scale":{"domain":[2.7944,4.7992],"zero":false,"nice":false,"padding":0},"axis":{"values":[2.9,3,3.1,3.2,3.3,3.4,3.5,3.6,3.7,3.8,3.9,4,4.1,4.2,4.3,4.4,4.5,4.6,4.7]}}}},
    {"data":{"name":"ma2"},"mark":{"type":"line","color":"#0000ff","strokeWidth":1},
     "encoding":{
      "x":{"field":"d","type":"temporal","title":null,"scale":{"type":"utc","domain":[{"year":2022,"month":5,"date":1,"utc":true},{"year":2024,"month":4,"date":30,"hours":23,"utc":true}],"padding":0,"nice":false},"axis":{"tickCount":{"interval":"month","step":1}}},
      "y":{"field":"m","type":"quantitative","title":null,"scale":{"domain":[2.7944,4.7992],"zero":false,"nice":false,"padding":0},"axis":{"values":[2.9,3,3.1,3.2,3.3,3.4,3.5,3.6,3.7,3.8,3.9,4,4.1,4.2,4.3,4.4,4.5,4.6,4.7]}}}},
    {"data":{"name":"hdr"},"mark":{"type":"rect","fill":"transparent","stroke":"#000000","strokeWidth":2,"clip":true}}
   ]},
  {"width":789,"height":108,
   "title":{"text":"Volume","offset":-19,"dx":7},
   "layer":[
    {"data":{"name":"px"},"mark":{"type":"bar","width":2},
     "encoding":{
      "x":{"field":"d","type":"temporal","title":null,"scale":{"type":"utc","domain":[{"year":2022,"month":5,"date":1,"utc":true},{"year":2024,"month":4,"date":30,"hours":23,"utc":true}],"padding":0,"nice":false},"axis":{"tickCount":{"interval":"month","step":1}}},
      "y":{"field":"v","type":"quantitative","title":null,"scale":{"domain":[-1.92,81.15],"zero":false,"nice":false,"padding":0},"axis":{"values":[20,40,60]}},
      "color":{"field":"t","type":"nominal","scale":{"domain":["up","down","flat"],"range":["#4cbb4c","#ff0000","#a9a9a9"]},"legend":null}}},
    {"data":{"name":"hdr"},"mark":{"type":"rect","fill":"transparent","stroke":"#000000","strokeWidth":2,"clip":true}}
   ]},
  {"width":789,"height":18,
   "layer":[
    {"data":{"name":"yearstarts"},"mark":{"type":"rule","color":"#000000","strokeWidth":2},
     "encoding":{"x":{"field":"start","type":"temporal","title":null,"scale":{"type":"utc","domain":[{"year":2022,"month":5,"date":1,"utc":true},{"year":2024,"month":4,"date":30,"hours":23,"utc":true}],"padding":0,"nice":false},"axis":null}}},
    {"data":{"name":"hdr"},"mark":{"type":"rect","fill":"transparent","stroke":"#000000","strokeWidth":2,"clip":true}}
   ]},
  {"width":789,"height":14,
   "layer":[
    {"data":{"name":"yearstarts"},"mark":{"type":"rule","color":"#000000","strokeWidth":2},
     "encoding":{"x":{"field":"start","type":"temporal","title":null,"scale":{"type":"utc","domain":[{"year":2022,"month":5,"date":1,"utc":true},{"year":2024,"month":4,"date":30,"hours":23,"utc":true}],"padding":0,"nice":false},"axis":null}}},
    {"data":{"name":"yearlabels"},"mark":{"type":"text","fontSize":13,"baseline":"middle","color":"#000000","font":"Liberation Sans"},
     "encoding":{"x":{"field":"mid","type":"temporal","title":null,"scale":{"type":"utc","domain":[{"year":2022,"month":5,"date":1,"utc":true},{"year":2024,"month":4,"date":30,"hours":23,"utc":true}],"padding":0,"nice":false},"axis":null},
      "text":{"field":"year","type":"nominal"}}},
    {"data":{"name":"hdr"},"mark":{"type":"rect","fill":"transparent","stroke":"#000000","strokeWidth":2,"clip":true}}
   ]}
 ],"spacing":0},
 {"vconcat":[
  {"width":40,"height":370,
   "layer":[
    {"data":{"name":"px"},"mark":{"type":"point","opacity":0},
     "encoding":{"y":{"field":"c","type":"quantitative","title":null,"scale":{"domain":[2.7944,4.7992],"zero":false,"nice":false,"padding":0},
      "axis":{"orient":"left","grid":false,"labels":true,"labelAlign":"left","labelPadding":-4,"labelBaseline":"middle","labelOverlap":false,"format":".2f","values":[2.9,3,3.1,3.2,3.3,3.4,3.5,3.6,3.7,3.8,3.9,4,4.1,4.2,4.3,4.4,4.5,4.6,4.7]}}}},
    {"data":{"name":"hdr"},"mark":{"type":"rect","fill":"transparent","stroke":"#000000","strokeWidth":2,"clip":true}}
   ]},
  {"width":40,"height":140,
   "layer":[
    {"data":{"name":"px"},"mark":{"type":"point","opacity":0},
     "encoding":{"y":{"field":"v","type":"quantitative","title":null,"scale":{"domain":[-26.54,81.15],"zero":false,"nice":false,"padding":0},
      "axis":{"orient":"left","grid":false,"labels":true,"labelAlign":"left","labelPadding":-4,"labelBaseline":"middle","labelOverlap":false,"values":[20,40,60],"labelExpr":"format(datum.value,'.1f') + ' M'"}}}},
    {"data":{"name":"hdr"},"mark":{"type":"rect","fill":"transparent","stroke":"#000000","strokeWidth":2,"clip":true}}
   ]}
 ],"spacing":0}
],"spacing":0}
],
"config":{
 "font":"Liberation Sans",
 "view":{"stroke":null},
 "axis":{"grid":true,"gridColor":"#c8c8c8","gridWidth":1,"labels":false,"ticks":false,"domain":false,"minExtent":0,"labelFont":"Liberation Sans","labelFontSize":13,"labelColor":"#000000"},
 "title":{"font":"Liberation Sans","fontSize":13,"fontWeight":"normal","color":"#000000","subtitleFont":"Liberation Sans","subtitleFontSize":13,"subtitleColor":"#000000","anchor":"start","frame":"group"}
}
}
